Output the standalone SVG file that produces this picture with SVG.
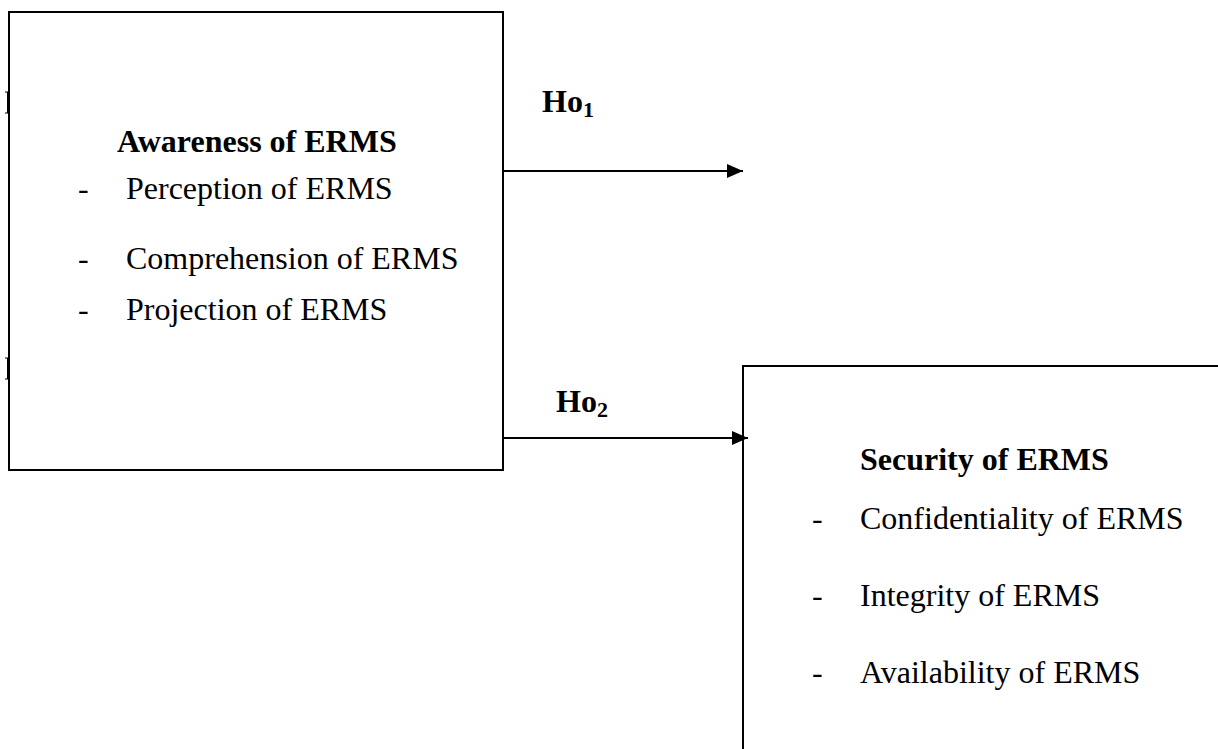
<svg xmlns="http://www.w3.org/2000/svg" width="1218" height="749" viewBox="0 0 1218 749">
<style>
.box{fill:none;stroke:#000;stroke-width:2}
.t{font-family:"Liberation Serif","Times New Roman",serif;font-size:32px;fill:#000}
.b{font-weight:bold}
.c{stroke:#000;stroke-width:2;fill:none}
.tick{stroke:#000;stroke-width:1;fill:none}
</style>
<defs>
<marker id="ah" markerWidth="16" markerHeight="14" refX="16" refY="7" orient="auto" markerUnits="userSpaceOnUse">
<path d="M0,0 L16,7 L0,14 Z" fill="#000"/>
</marker>
</defs>
<rect width="1218" height="749" fill="#fff"/>
<g id="awareness">
<rect class="box" x="9" y="12" width="494" height="458"/>
<path class="tick" d="M5,92 H9 M5,113 H9 M5,358 H9 M5,379 H9"/>
<path d="M8,92 V113 M8,358 V379" stroke="#000" stroke-width="2"/>
<text class="t b" x="117" y="152">Awareness of ERMS</text>
<text class="t" x="78" y="199">-</text>
<text class="t" x="126" y="199">Perception of ERMS</text>
<text class="t" x="78" y="269">-</text>
<text class="t" x="126" y="269">Comprehension of ERMS</text>
<text class="t" x="78" y="320">-</text>
<text class="t" x="126" y="320">Projection of ERMS</text>
</g>
<g id="security">
<rect class="box" x="743" y="366" width="600" height="500"/>
<text class="t b" x="860" y="470">Security of ERMS</text>
<text class="t" x="812" y="529">-</text>
<text class="t" x="860" y="529">Confidentiality of ERMS</text>
<text class="t" x="812" y="606">-</text>
<text class="t" x="860" y="606">Integrity of ERMS</text>
<text class="t" x="812" y="683">-</text>
<text class="t" x="860" y="683">Availability of ERMS</text>
</g>
<g id="connectors">
<line class="c" x1="503" y1="171" x2="743" y2="171" marker-end="url(#ah)"/>
<line class="c" x1="503" y1="438" x2="748" y2="438" marker-end="url(#ah)"/>
<text class="t b" x="542" y="112">Ho<tspan font-size="22" dy="5">1</tspan></text>
<text class="t b" x="556" y="412">Ho<tspan font-size="22" dy="5">2</tspan></text>
</g>
</svg>
